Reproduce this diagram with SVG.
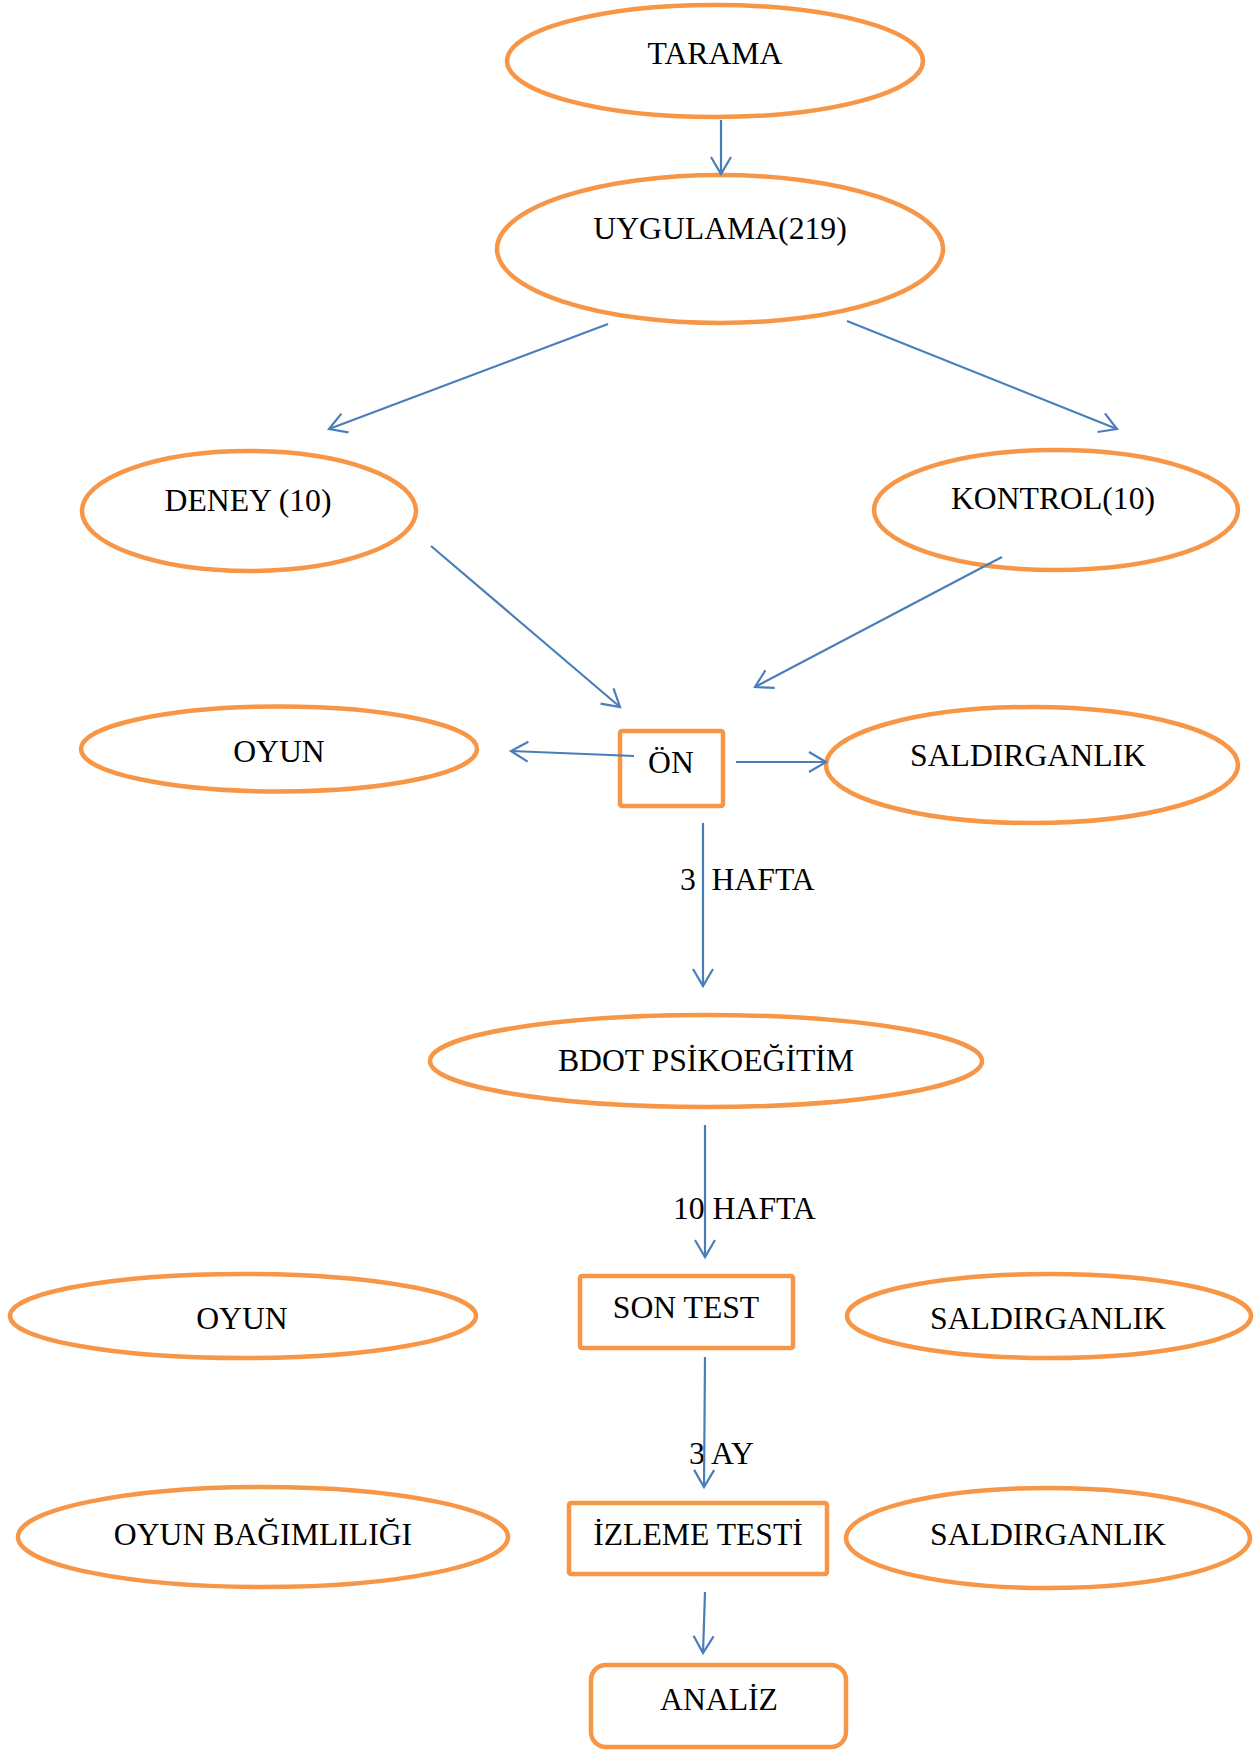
<svg xmlns="http://www.w3.org/2000/svg" width="1260" height="1751" viewBox="0 0 1260 1751">
<style>
.n{fill:#fff;stroke:#F79646;stroke-width:4.5}
.t{font-family:"Liberation Serif","Times New Roman",serif;font-size:31.7px;fill:#000;text-anchor:middle}
.ts{font-family:"Liberation Serif","Times New Roman",serif;font-size:31.7px;fill:#000}
.c{stroke:#4A7EBB;stroke-width:2.2;fill:none;marker-end:url(#ah)}
</style>
<defs>
<marker id="ah" markerUnits="userSpaceOnUse" viewBox="-20 -12 22 24" refX="0" refY="0" markerWidth="22" markerHeight="24" orient="auto" overflow="visible">
<path d="M-17,-10 L0,0 L-17,10" fill="none" stroke="#4A7EBB" stroke-width="2.2"/>
</marker>
</defs>
<rect width="1260" height="1751" fill="#fff"/>
<g id="tarama"><ellipse class="n" cx="715" cy="61" rx="208" ry="56"/><text class="t" x="715" y="64">TARAMA</text></g>
<g id="uygulama"><ellipse class="n" cx="720" cy="249" rx="223" ry="74"/><text class="t" x="720" y="239">UYGULAMA(219)</text></g>
<g id="deney"><ellipse class="n" cx="249" cy="511" rx="167" ry="60"/><text class="t" x="248" y="511">DENEY (10)</text></g>
<g id="kontrol"><ellipse class="n" cx="1056" cy="510" rx="182" ry="60"/><text class="t" x="1053" y="509">KONTROL(10)</text></g>
<g id="oyun1"><ellipse class="n" cx="279" cy="749" rx="198" ry="42.5"/><text class="t" x="279" y="762">OYUN</text></g>
<g id="on"><rect class="n" x="620" y="731" width="103" height="75" rx="2"/><text class="t" x="671" y="773">ÖN</text></g>
<g id="saldirganlik1"><ellipse class="n" cx="1032" cy="765" rx="206" ry="58"/><text class="t" x="1028" y="766">SALDIRGANLIK</text></g>
<g id="label-3hafta"><text class="ts" y="890"><tspan x="680">3</tspan><tspan x="711.5">HAFTA</tspan></text></g>
<g id="bdot"><ellipse class="n" cx="706" cy="1061" rx="276" ry="46"/><text class="t" x="706" y="1071">BDOT PSİKOEĞİTİM</text></g>
<g id="label-10hafta"><text class="ts" x="673" y="1219">10 HAFTA</text></g>
<g id="oyun2"><ellipse class="n" cx="243" cy="1316" rx="233" ry="42"/><text class="t" x="242" y="1329">OYUN</text></g>
<g id="sontest"><rect class="n" x="580" y="1276" width="213" height="72" rx="2"/><text class="t" x="686" y="1318">SON TEST</text></g>
<g id="saldirganlik2"><ellipse class="n" cx="1049" cy="1316" rx="202" ry="42"/><text class="t" x="1048" y="1329">SALDIRGANLIK</text></g>
<g id="label-3ay"><text class="ts" x="689" y="1464">3 AY</text></g>
<g id="oyunbagimliligi"><ellipse class="n" cx="263" cy="1537" rx="245" ry="50"/><text class="t" x="263" y="1545">OYUN BAĞIMLILIĞI</text></g>
<g id="izleme"><rect class="n" x="569" y="1503" width="258" height="71" rx="2"/><text class="t" x="698" y="1545">İZLEME TESTİ</text></g>
<g id="saldirganlik3"><ellipse class="n" cx="1048" cy="1538" rx="202" ry="50"/><text class="t" x="1048" y="1545">SALDIRGANLIK</text></g>
<g id="analiz"><rect class="n" x="591" y="1665" width="255" height="82" rx="15"/><text class="t" x="719" y="1710">ANALİZ</text></g>
<g id="connectors">
<line class="c" x1="721" y1="120" x2="721" y2="174"/>
<line class="c" x1="608" y1="324" x2="329" y2="429"/>
<line class="c" x1="847" y1="321" x2="1117" y2="429"/>
<line class="c" x1="431" y1="546" x2="620" y2="707"/>
<line class="c" x1="1002" y1="557" x2="755" y2="687"/>
<line class="c" x1="634" y1="756" x2="511" y2="751"/>
<line class="c" x1="736" y1="762" x2="826" y2="762"/>
<line class="c" x1="703" y1="823" x2="703" y2="986"/>
<line class="c" x1="705" y1="1125" x2="705" y2="1257"/>
<line class="c" x1="705" y1="1357" x2="704" y2="1487"/>
<line class="c" x1="705" y1="1592" x2="703" y2="1653"/>
</g>
</svg>
